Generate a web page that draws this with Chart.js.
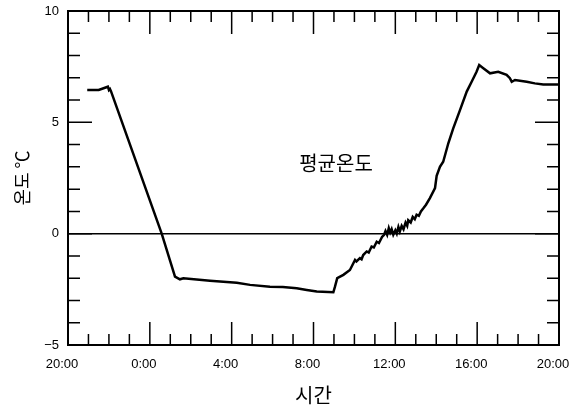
<!DOCTYPE html>
<html>
<head>
<meta charset="utf-8">
<script src="https://cdn.jsdelivr.net/npm/chart.js@4/dist/chart.umd.min.js"></script>
<style>
  html, body { margin: 0; padding: 0; background: #fff; }
  #wrap { width: 583px; height: 412px; }
</style>
</head>
<body>
<div id="wrap"><canvas id="chart" width="583" height="412"></canvas></div>
<script>
// hours since 20:00 of the first day
const hours = [
  0.94, 1.5, 1.95, 2.0, 2.05, 2.1,
  4.58, 5.23, 5.47, 5.64, 6.94, 8.25, 8.9, 9.87, 10.5, 11.18, 11.67, 12.16, 12.97,
  13.05, 13.16, 13.46, 13.78, 14.03, 14.1, 14.27, 14.35, 14.43, 14.6, 14.7, 14.84, 14.95,
  15.09, 15.2, 15.35, 15.45, 15.52, 15.6, 15.68, 15.75, 15.82, 15.9, 16.0, 16.07, 16.15,
  16.22, 16.31, 16.4, 16.5, 16.58, 16.63, 16.75, 16.85, 16.95, 17.04, 17.15, 17.25, 17.37,
  17.5, 17.69, 17.94, 18.02, 18.18, 18.34, 18.59, 18.83, 19.16, 19.49, 19.73, 19.97,
  20.1, 20.3, 20.63, 21.03, 21.44, 21.6, 21.69, 21.85, 22.42, 22.82, 23.23, 23.96
];
// mean temperature, °C
const temps = [
  6.45, 6.45, 6.6, 6.45, 6.5, 6.4,
  0.0, -1.93, -2.05, -2.0, -2.11, -2.2, -2.3, -2.38, -2.4, -2.45, -2.53, -2.6, -2.63,
  -2.38, -2.0, -1.85, -1.63, -1.18, -1.25, -1.1, -1.15, -0.96, -0.8, -0.85, -0.58, -0.62,
  -0.36, -0.42, -0.15, -0.05, 0.12, -0.05, 0.25, 0.05, 0.2, -0.05, 0.15, 0.0, 0.3,
  0.1, 0.35, 0.2, 0.5, 0.35, 0.6, 0.5, 0.75, 0.65, 0.85, 0.8, 1.0, 1.14,
  1.3, 1.6, 2.05, 2.6, 3.0, 3.23, 4.06, 4.73, 5.55, 6.38, 6.82, 7.27,
  7.57, 7.43, 7.2, 7.27, 7.13, 6.98, 6.82, 6.9, 6.82, 6.75, 6.7, 6.7
];
const xTickLabels = ['20:00', '0:00', '4:00', '8:00', '12:00', '16:00', '20:00'];
const seriesLabel = '평균온도';
const labelAt = { x: 13.1, y: 3.17 };

const tickFont = { family: 'Liberation Sans, Arial, sans-serif', size: 13 };
const krFont = { family: '"Noto Sans CJK KR", sans-serif', size: 20 };
const yTitleFont = { family: '"Noto Sans CJK KR", sans-serif', size: 18 };

// frame and inward ticks on all four sides
const framePlugin = {
  id: 'frame',
  afterDatasetsDraw(chart) {
    const { ctx, chartArea: a, scales: { x, y } } = chart;
    ctx.save();
    ctx.strokeStyle = '#000';
    ctx.lineWidth = 1.5;
    for (let h = 1; h < 24; h++) {
      const px = x.getPixelForValue(h);
      const len = h % 4 === 0 ? 23 : 11;
      ctx.beginPath();
      ctx.moveTo(px, a.bottom); ctx.lineTo(px, a.bottom - len);
      ctx.moveTo(px, a.top); ctx.lineTo(px, a.top + len);
      ctx.stroke();
    }
    for (let v = -4; v < 10; v++) {
      const py = y.getPixelForValue(v);
      const len = v % 5 === 0 ? 24 : 12;
      ctx.beginPath();
      ctx.moveTo(a.left, py); ctx.lineTo(a.left + len, py);
      ctx.moveTo(a.right, py); ctx.lineTo(a.right - len, py);
      ctx.stroke();
    }
    ctx.lineWidth = 2;
    ctx.strokeRect(a.left, a.top, a.right - a.left, a.bottom - a.top);

    ctx.fillStyle = '#000';
    ctx.font = krFont.size + 'px ' + krFont.family;
    ctx.textAlign = 'center';
    ctx.textBaseline = 'middle';
    ctx.fillText(seriesLabel, x.getPixelForValue(labelAt.x), y.getPixelForValue(labelAt.y));
    ctx.restore();
  }
};

new Chart(document.getElementById('chart'), {
  type: 'line',
  data: {
    datasets: [{
      label: seriesLabel,
      data: hours.map((h, i) => ({ x: h, y: temps[i] })),
      borderColor: '#000',
      borderWidth: 2.5,
      pointRadius: 0,
      tension: 0,
      fill: false
    }]
  },
  options: {
    responsive: false,
    animation: false,
    layout: { padding: { left: 0, right: 24, top: 11, bottom: 0 } },
    plugins: { legend: { display: false }, tooltip: { enabled: false } },
    scales: {
      x: {
        type: 'linear',
        min: 0, max: 24,
        afterFit: s => { s.height = 67; s.paddingLeft = 0; s.paddingRight = 0; },
        border: { display: false },
        grid: { display: false, drawTicks: false },
        ticks: {
          stepSize: 4,
          padding: 12,
          labelOffset: -6,
          color: '#000',
          font: tickFont,
          maxRotation: 0,
          callback: (v) => xTickLabels[v / 4]
        },
        title: { display: true, text: '시간', color: '#000', font: krFont, padding: { top: 0, bottom: 5 } }
      },
      y: {
        min: -5, max: 10,
        afterFit: s => { s.width = 68; s.paddingTop = 0; s.paddingBottom = 0; },
        border: { display: false },
        grid: {
          drawTicks: false,
          lineWidth: 1.5,
          color: c => c.tick && c.tick.value === 0 ? '#000' : 'rgba(0,0,0,0)'
        },
        ticks: {
          stepSize: 5,
          padding: 9,
          color: '#000',
          font: tickFont,
          callback: v => v < 0 ? '−' + Math.abs(v) : String(v)
        },
        title: { display: true, text: '온도 ℃', color: '#000', font: yTitleFont, padding: { top: 11, bottom: 0 } }
      }
    }
  },
  plugins: [framePlugin]
});
</script>
</body>
</html>
